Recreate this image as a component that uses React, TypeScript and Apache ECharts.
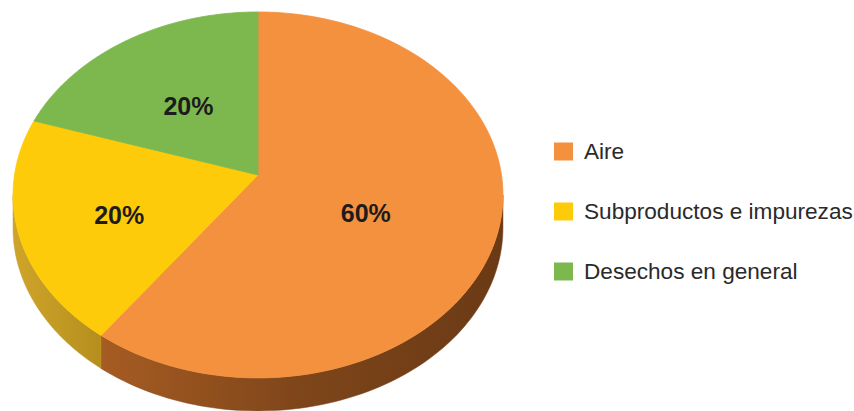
import React, { useEffect, useRef } from "react";
import * as echarts from "echarts";

const categories = ["Aire", "Subproductos e impurezas", "Desechos en general"];
const values = [60, 20, 20];
const labels = ["60%", "20%", "20%"];

const topColors = ["#F4913F", "#FDCB0A", "#7DB84E"];
const sideColors = [
  ["#A65C22", "#7E451A", "#6A3A15"],
  ["#CFA42A", "#C29A24", "#B58E1F"],
  ["#5E8F35", "#557F30", "#4F7A2C"],
];
const labelShift = [[-10, 10], [-21, 12], [-1, 1]];

const CX = 258;
const CY = 175;
const HS = 243.5;
const VS = 180.8;
const K = 0.109;
const DEPTH = 33;

function proj(theta: number, r: number): number[] {
  const s = Math.sin(theta);
  const c = Math.cos(theta);
  const d = 1 + K * r * c;
  return [CX + (HS * r * s) / d, CY - (VS * r * c) / d];
}

const FRONT0 = Math.acos(-K);
const FRONT1 = 2 * Math.PI - FRONT0;

function renderSlice(params: any, api: any) {
  const i = params.seriesIndex;
  const total = values.reduce((a, b) => a + b, 0);
  const before = values.slice(0, i).reduce((a, b) => a + b, 0);
  const v = api.value(0);
  const a0 = (before / total) * 2 * Math.PI;
  const a1 = ((before + v) / total) * 2 * Math.PI;
  const children: any[] = [];

  const f0 = Math.max(a0, FRONT0);
  const f1 = Math.min(a1, FRONT1);
  if (f1 > f0) {
    const upper: number[][] = [];
    const N = 80;
    for (let n = 0; n <= N; n++) upper.push(proj(f0 + ((f1 - f0) * n) / N, 1));
    const lower = upper.map((p) => [p[0], p[1] + DEPTH]).reverse();
    const sc = sideColors[i];
    children.push({
      type: "polygon",
      shape: { points: upper.concat(lower) },
      style: {
        fill: new echarts.graphic.LinearGradient(0, 0, 1, 0, [
          { offset: 0, color: sc[0] },
          { offset: 0.5, color: sc[1] },
          { offset: 1, color: sc[2] },
        ]),
        stroke: sc[1],
        lineWidth: 0.5,
      },
    });
  }

  const pts: number[][] = [[CX, CY]];
  const M = 120;
  for (let n = 0; n <= M; n++) pts.push(proj(a0 + ((a1 - a0) * n) / M, 1));
  children.push({
    type: "polygon",
    shape: { points: pts },
    style: { fill: topColors[i], stroke: topColors[i], lineWidth: 0.8 },
  });

  const mid = (a0 + a1) / 2;
  const lp = proj(mid, 0.5);
  children.push({
    type: "text",
    style: {
      text: labels[i],
      x: lp[0] + labelShift[i][0],
      y: lp[1] + labelShift[i][1],
      align: "center",
      verticalAlign: "middle",
      fontSize: 25,
      fontWeight: "bold",
      fontFamily: "Liberation Sans",
      fill: "#1c1c1c",
    },
  });
  return { type: "group", children };
}

export default function App() {
  const ref = useRef<HTMLDivElement>(null);
  useEffect(() => {
    document.body.style.margin = "0";
    const chart = echarts.init(ref.current as HTMLDivElement, undefined, { renderer: "svg" });
    chart.setOption({
      animation: false,
      backgroundColor: "#ffffff",
      color: topColors,
      legend: {
        orient: "vertical",
        left: 549,
        top: 135,
        itemWidth: 19,
        itemHeight: 18,
        itemGap: 37,
        icon: "rect",
        selectedMode: false,
        data: categories,
        textStyle: {
          fontSize: 22.6,
          fontFamily: "Liberation Sans",
          color: "#2a2a2a",
          lineHeight: 22,
          padding: [0, 0, 0, 6],
        },
      },
      series: categories.map((name, i) => ({
        type: "custom",
        name,
        coordinateSystem: "none",
        itemStyle: { color: topColors[i] },
        data: [[values[i]]],
        renderItem: renderSlice,
      })),
    });
    return () => chart.dispose();
  }, []);
  return <div ref={ref} style={{ width: 854, height: 411 }} />;
}
